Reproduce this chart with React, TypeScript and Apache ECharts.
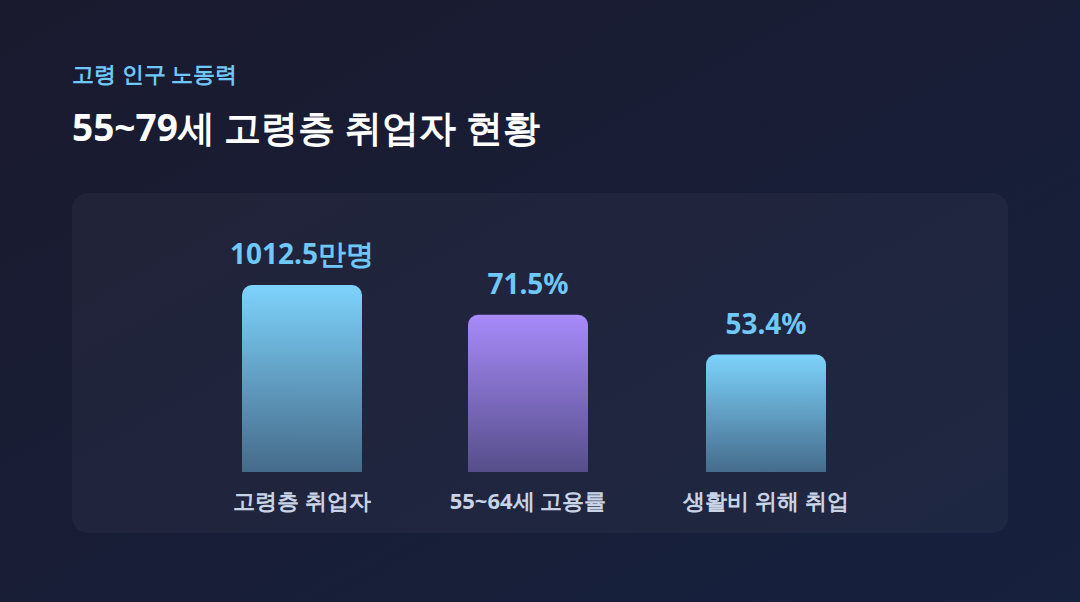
import React, { useEffect, useRef } from "react";
import * as echarts from "echarts";

const categories = ["고령층 취업자", "55~64세 고용률", "생활비 위해 취업"];
const barHeights = [85, 71.5, 53.4];
const valueLabels = ["1012.5만명", "71.5%", "53.4%"];
const barColors = [
  ["#7dd3fc", "rgba(125,211,252,0.4)"],
  ["#a78bfa", "rgba(167,139,250,0.4)"],
  ["#7dd3fc", "rgba(125,211,252,0.4)"],
];
const gridLefts = [242, 468, 706];

const FONT = "'Noto Sans', sans-serif";

export default function App() {
  const ref = useRef<HTMLDivElement>(null);
  useEffect(() => {
    if (!ref.current) return;
    const chart = echarts.init(ref.current, undefined, { renderer: "svg" });
    const grids = categories.map((_, i) => ({
      left: gridLefts[i],
      width: 120,
      top: 252,
      height: 220,
      containLabel: false,
    }));
    const xAxes = categories.map((c, i) => ({
      type: "category",
      gridIndex: i,
      data: [c],
      axisLine: { show: false },
      axisTick: { show: false },
      axisLabel: {
        color: "#c9d3e6",
        fontSize: 22,
        fontWeight: "bold",
        fontFamily: FONT,
        margin: 17,
        interval: 0,
      },
    }));
    const yAxes = categories.map((_, i) => ({
      type: "value",
      gridIndex: i,
      min: 0,
      max: 100,
      show: false,
      splitLine: { show: false },
    }));
    const series = categories.map((_, i) => ({
      type: "bar",
      xAxisIndex: i,
      yAxisIndex: i,
      barWidth: 120,
      data: [barHeights[i]],
      itemStyle: {
        borderRadius: [10, 10, 0, 0],
        color: new echarts.graphic.LinearGradient(0, 0, 0, 1, [
          { offset: 0, color: barColors[i][0] },
          { offset: 1, color: barColors[i][1] },
        ]),
      },
      label: {
        show: true,
        position: "top",
        distance: 18,
        formatter: () => valueLabels[i],
        color: "#6fc8f8",
        fontSize: 28,
        fontWeight: "bold",
        fontFamily: FONT,
      },
    }));
    chart.setOption({
      animation: false,
      backgroundColor: new echarts.graphic.LinearGradient(0, 0, 1, 1, [
        { offset: 0, color: "#1a1a2e" },
        { offset: 1, color: "#16213e" },
      ]),
      title: [
        {
          text: "고령 인구 노동력",
          left: 72,
          top: 62,
          padding: 0,
          textStyle: {
            color: "#6fc8f8",
            fontSize: 22,
            fontWeight: "bold",
            fontFamily: FONT,
          },
        },
        {
          text: "55~79세 고령층 취업자 현황",
          left: 72,
          top: 108,
          padding: 0,
          textStyle: {
            color: "#ffffff",
            fontSize: 37,
            fontWeight: "bold",
            fontFamily: FONT,
          },
        },
      ],
      graphic: [
        {
          type: "rect",
          z: -1,
          shape: { x: 72, y: 193, width: 936, height: 340, r: 16 },
          style: { fill: "rgba(255,255,255,0.035)" },
        },
      ],
      grid: grids,
      xAxis: xAxes,
      yAxis: yAxes,
      series,
    });
    return () => chart.dispose();
  }, []);
  return (
    <div
      ref={ref}
      style={{ position: "fixed", left: 0, top: 0, width: 1080, height: 602 }}
    />
  );
}
